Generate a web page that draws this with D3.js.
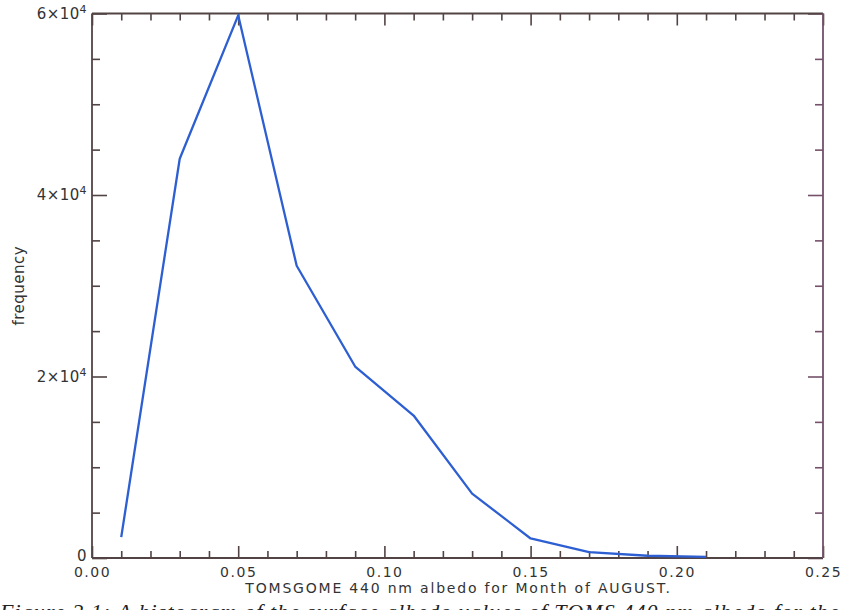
<!DOCTYPE html>
<html>
<head>
<meta charset="utf-8">
<script src="https://cdn.jsdelivr.net/npm/d3@7"></script>
<style>
  html, body { margin: 0; padding: 0; background: #fff; overflow: hidden; }
  svg { display: block; }
</style>
</head>
<body>
<svg id="chart" width="842" height="610"></svg>
<script>
// Histogram bin centres (albedo) and counts
const albedo = [0.01, 0.03, 0.05, 0.07, 0.09, 0.11, 0.13, 0.15, 0.17, 0.19, 0.21];
const frequency = [2300, 44000, 59800, 32200, 21100, 15700, 7100, 2150, 650, 250, 120];

const xMajorTicks = [0.00, 0.05, 0.10, 0.15, 0.20, 0.25];
const xTickLabels = ["0.00", "0.05", "0.10", "0.15", "0.20", "0.25"];
const yMajorTicks = [0, 20000, 40000, 60000];
const yMantissa = ["0", "2", "4", "6"];

const xTitle = "TOMSGOME 440 nm albedo for Month of AUGUST.";
const yTitle = "frequency";
const caption = "Figure 2.1: A histogram of the surface albedo values of TOMS 440 nm albedo for the";

const svg = d3.select("#chart");
const plotL = 92, plotR = 823, plotT = 13.5, plotB = 558;
const axisColor = "#524444";
const frameRight = "#74506a";
const lineColor = "#2d5fd2";
const font = "'DejaVu Sans', sans-serif";

const x = d3.scaleLinear().domain([0, 0.25]).range([plotL, plotR]);
const y = d3.scaleLinear().domain([0, 60000]).range([plotB, plotT]);

const xMinor = d3.range(0, 0.2501, 0.01).filter(v => !xMajorTicks.some(m => Math.abs(m - v) < 1e-9));
const yMinor = d3.range(0, 60001, 5000).filter(v => v % 20000 !== 0);

// Bottom axis: major ticks with labels, minor ticks without
const gBottom = svg.append("g").attr("transform", `translate(0,${plotB})`);
gBottom.call(d3.axisBottom(x).tickValues(xMajorTicks).tickSizeInner(-12).tickSizeOuter(0).tickFormat((d, i) => xTickLabels[i]));
gBottom.append("g").call(d3.axisBottom(x).tickValues(xMinor).tickSizeInner(-7).tickSizeOuter(0).tickFormat(""));

// Top axis: tick marks only
const gTop = svg.append("g").attr("transform", `translate(0,${plotT})`);
gTop.call(d3.axisTop(x).tickValues(xMajorTicks).tickSizeInner(-12).tickSizeOuter(0).tickFormat(""));
gTop.append("g").call(d3.axisTop(x).tickValues(xMinor).tickSizeInner(-7).tickSizeOuter(0).tickFormat(""));

// Left axis
const gLeft = svg.append("g").attr("transform", `translate(${plotL},0)`);
gLeft.call(d3.axisLeft(y).tickValues(yMajorTicks).tickSizeInner(-15).tickSizeOuter(0).tickFormat(""));
gLeft.append("g").call(d3.axisLeft(y).tickValues(yMinor).tickSizeInner(-8).tickSizeOuter(0).tickFormat(""));

// Right axis
const gRight = svg.append("g").attr("transform", `translate(${plotR},0)`);
gRight.call(d3.axisRight(y).tickValues(yMajorTicks).tickSizeInner(-15).tickSizeOuter(0).tickFormat(""));
gRight.append("g").call(d3.axisRight(y).tickValues(yMinor).tickSizeInner(-8).tickSizeOuter(0).tickFormat(""));

svg.selectAll(".domain").remove();
svg.selectAll(".tick line").attr("stroke", axisColor).attr("stroke-width", 1.6);
gRight.selectAll(".tick line").attr("stroke", frameRight);

gBottom.selectAll(".tick text")
  .attr("font-family", font).attr("font-size", 14).attr("fill", "#333")
  .attr("letter-spacing", "1.5px")
  .attr("y", 9.5).attr("dy", "0.71em");

// Frame
svg.append("line").attr("x1", plotL).attr("x2", plotR).attr("y1", plotB).attr("y2", plotB)
  .attr("stroke", axisColor).attr("stroke-width", 1.8);
svg.append("line").attr("x1", plotL).attr("x2", plotR).attr("y1", plotT).attr("y2", plotT)
  .attr("stroke", axisColor).attr("stroke-width", 1.8);
svg.append("line").attr("x1", plotL).attr("x2", plotL).attr("y1", plotT).attr("y2", plotB)
  .attr("stroke", axisColor).attr("stroke-width", 1.8);
svg.append("line").attr("x1", plotR).attr("x2", plotR).attr("y1", plotT).attr("y2", plotB)
  .attr("stroke", frameRight).attr("stroke-width", 1.8);

// Y tick labels in scientific notation
const yLab = svg.append("g").selectAll("text").data(yMajorTicks).join("text")
  .attr("x", plotL - 5).attr("y", d => y(d) + (d === 0 ? 3 : 5))
  .attr("text-anchor", "end")
  .attr("font-family", font).attr("font-size", 15).attr("fill", "#333")
  .attr("letter-spacing", "0.4px");
yLab.each(function(d, i) {
  const t = d3.select(this);
  if (d === 0) { t.text(yMantissa[i]); return; }
  t.append("tspan").text(yMantissa[i] + "\u00d710");
  t.append("tspan").attr("dy", -6).attr("font-size", 11).text("4");
});

// Line series
const line = d3.line().x((d, i) => x(albedo[i])).y(d => y(d));
svg.append("path").datum(frequency)
  .attr("d", line)
  .attr("fill", "none")
  .attr("stroke", lineColor)
  .attr("stroke-width", 2.3)
  .attr("stroke-linejoin", "round");

// Axis titles
svg.append("text")
  .attr("x", (plotL + plotR) / 2 + 1).attr("y", 593)
  .attr("text-anchor", "middle")
  .attr("font-family", font).attr("font-size", 14).attr("fill", "#333")
  .attr("letter-spacing", "1.8px")
  .text(xTitle);
svg.append("text")
  .attr("transform", `translate(24,${(plotT + plotB) / 2}) rotate(-90)`)
  .attr("text-anchor", "middle")
  .attr("font-family", font).attr("font-size", 15).attr("fill", "#333")
  .attr("letter-spacing", "0.5px")
  .text(yTitle);

// Figure caption, running off the bottom edge
svg.append("text")
  .attr("x", 0).attr("y", 619)
  .attr("font-family", "'Liberation Serif', serif").attr("font-style", "italic")
  .attr("font-size", 22).attr("fill", "#222")
  .attr("letter-spacing", "1.1px")
  .text(caption);
</script>
</body>
</html>
